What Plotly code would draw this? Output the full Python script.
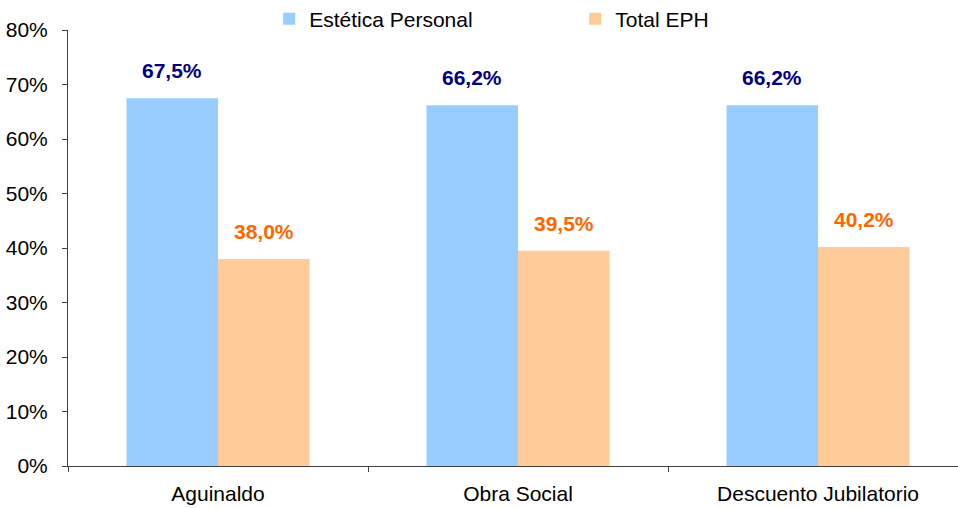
import plotly.graph_objects as go

categories = ["Aguinaldo", "Obra Social", "Descuento Jubilatorio"]
estetica = [67.5, 66.2, 66.2]
total_eph = [38.0, 39.5, 40.2]
series_names = ["Estética Personal", "Total EPH"]
y_ticks = [0, 10, 20, 30, 40, 50, 60, 70, 80]

def fmt(v):
    return f"{v:.1f}%".replace(".", ",")

FONT = "Liberation Sans, Arial"

fig = go.Figure()
fig.add_trace(go.Bar(x=categories, y=estetica, name=series_names[0],
                     marker=dict(color="#99CCFF", line=dict(width=0)), offsetgroup="a"))
fig.add_trace(go.Bar(x=categories, y=total_eph, name=series_names[1],
                     marker=dict(color="#FFCC99", line=dict(width=0)), offsetgroup="b"))

bargap = 0.39
half = (1 - bargap) / 2
annotations = []
for i, v in enumerate(estetica):
    annotations.append(dict(x=i - half / 2, y=v, xref="x", yref="y", text=fmt(v),
                            showarrow=False, yanchor="bottom", yshift=14,
                            font=dict(color="#000080", size=21, family=FONT, weight="bold")))
for i, v in enumerate(total_eph):
    annotations.append(dict(x=i + half / 2, y=v, xref="x", yref="y", text=fmt(v),
                            showarrow=False, yanchor="bottom", yshift=14,
                            font=dict(color="#FF6600", size=21, family=FONT, weight="bold")))

fig.update_layout(
    width=958, height=508,
    margin=dict(l=68, r=0, t=30, b=42, autoexpand=False),
    paper_bgcolor="white", plot_bgcolor="white",
    font=dict(family=FONT, size=21, color="black"),
    barmode="group", bargap=bargap, bargroupgap=0,
    showlegend=True,
    annotations=annotations,
    legend=dict(orientation="h", xref="container", yref="container",
                x=0.281, y=1 - 19 / 508, xanchor="left", yanchor="middle",
                entrywidth=261, entrywidthmode="pixels",
                font=dict(size=21), bgcolor="rgba(0,0,0,0)", itemclick=False),
)
fig.update_xaxes(range=[-0.5, 2.5 - 10 / 300], showline=True, linecolor="#404040", linewidth=1,
                 ticks="outside", tickson="boundaries", ticklen=5, tickcolor="#404040",
                 showgrid=False, tickfont=dict(size=21), automargin=False, ticklabelstandoff=9)
fig.update_yaxes(range=[0, 80], tickvals=y_ticks, ticktext=[f"{t}%" for t in y_ticks],
                 showline=True, linecolor="#404040", linewidth=1, ticks="outside", ticklen=5,
                 tickcolor="#404040", showgrid=False, zeroline=False, tickfont=dict(size=21),
                 automargin=False, ticklabelstandoff=10)

fig.write_html("out.html", config={"displayModeBar": False},
               post_script="document.body.style.margin='0';document.body.style.overflow='hidden';")
